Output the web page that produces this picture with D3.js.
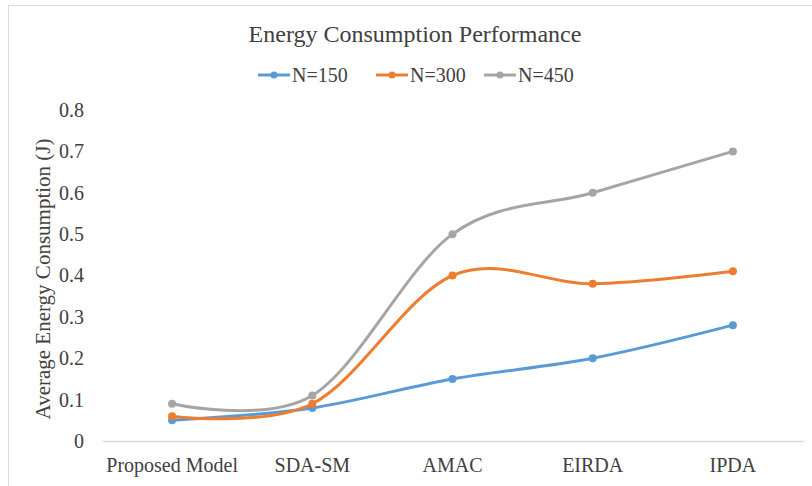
<!DOCTYPE html>
<html>
<head>
<meta charset="utf-8">
<script src="https://cdn.jsdelivr.net/npm/d3@7"></script>
<style>
  body { margin: 0; background: #fff; }
  svg text { font-family: "Liberation Serif", "Times New Roman", serif; fill: #404040; }
</style>
</head>
<body>
<div id="chart"></div>
<script>
// Energy Consumption Performance

const categories = ["Proposed Model", "SDA-SM", "AMAC", "EIRDA", "IPDA"];
const seriesNames = ["N=150", "N=300", "N=450"];
const n150 = [0.05, 0.08, 0.15, 0.20, 0.28];
const n300 = [0.06, 0.09, 0.40, 0.38, 0.41];
const n450 = [0.09, 0.11, 0.50, 0.60, 0.70];
const yTicks = [0, 0.1, 0.2, 0.3, 0.4, 0.5, 0.6, 0.7, 0.8];

const colors = ["#5b9bd5", "#ed7d31", "#a5a5a5"];
const series = [n150, n300, n450];
const serif = "Liberation Serif, Times New Roman, serif";

const W = 812, H = 486;
const margin = { left: 102, right: 9, top: 110, bottom: 45 };

const svg = d3.select("#chart").append("svg")
  .attr("width", W)
  .attr("height", H);

// outer frame
svg.append("rect")
  .attr("x", 8.5).attr("y", 5.5)
  .attr("width", W).attr("height", H)
  .attr("fill", "none")
  .attr("stroke", "#d9d9d9");

const x = d3.scaleBand()
  .domain(categories)
  .range([margin.left, W - margin.right]);

const y = d3.scaleLinear()
  .domain([0, 0.8])
  .range([H - margin.bottom, margin.top]);

// title
svg.append("text")
  .attr("x", 415).attr("y", 42)
  .attr("text-anchor", "middle")
  .style("font-size", "24px")
  .style("font-family", serif)
  .text("Energy Consumption Performance");

// legend
const legend = svg.append("g").attr("transform", "translate(258,75)");
const legendX = [0, 118, 226];
seriesNames.forEach((name, i) => {
  const g = legend.append("g").attr("transform", `translate(${legendX[i]},0)`);
  g.append("line")
    .attr("x1", 0).attr("x2", 32)
    .attr("stroke", colors[i]).attr("stroke-width", 3);
  g.append("circle")
    .attr("cx", 16).attr("r", 3.5)
    .attr("fill", colors[i]);
  g.append("text")
    .attr("x", 34).attr("y", 7)
    .style("font-size", "20px")
    .style("font-family", serif)
    .text(name);
});

// y axis labels (no line, no gridlines)
const yAxis = svg.append("g")
  .attr("transform", `translate(${margin.left - 18},0)`)
  .call(d3.axisLeft(y).tickValues(yTicks).tickSize(0).tickPadding(0)
    .tickFormat(d => d === 0 ? "0" : d3.format(".1f")(d)));
yAxis.select(".domain").remove();
yAxis.selectAll("text")
  .style("font-size", "20px")
  .style("font-family", serif)
  .attr("fill", "#404040");

// x axis
const xAxis = svg.append("g")
  .attr("transform", `translate(0,${H - margin.bottom})`)
  .call(d3.axisBottom(x).tickSize(0).tickPadding(17));
xAxis.select(".domain").attr("stroke", "#d9d9d9").attr("stroke-width", 1.5);
xAxis.selectAll("text")
  .style("font-size", "20px")
  .style("font-family", serif)
  .attr("fill", "#404040");

// y axis title
svg.append("text")
  .attr("transform", `translate(50,279) rotate(-90)`)
  .attr("text-anchor", "middle")
  .style("font-size", "21px")
  .style("font-family", serif)
  .text("Average Energy Consumption (J)");

// lines
const line = d3.line()
  .x((d, i) => x(categories[i]) + x.bandwidth() / 2)
  .y(d => y(d))
  .curve(d3.curveCatmullRom.alpha(0));

series.forEach((vals, s) => {
  svg.append("path")
    .datum(vals)
    .attr("d", line)
    .attr("fill", "none")
    .attr("stroke", colors[s])
    .attr("stroke-width", 3)
    .attr("stroke-linecap", "round");
  svg.selectAll(null)
    .data(vals)
    .enter()
    .append("circle")
    .attr("cx", (d, i) => x(categories[i]) + x.bandwidth() / 2)
    .attr("cy", d => y(d))
    .attr("r", 4)
    .attr("fill", colors[s]);
});
</script>
</body>
</html>
